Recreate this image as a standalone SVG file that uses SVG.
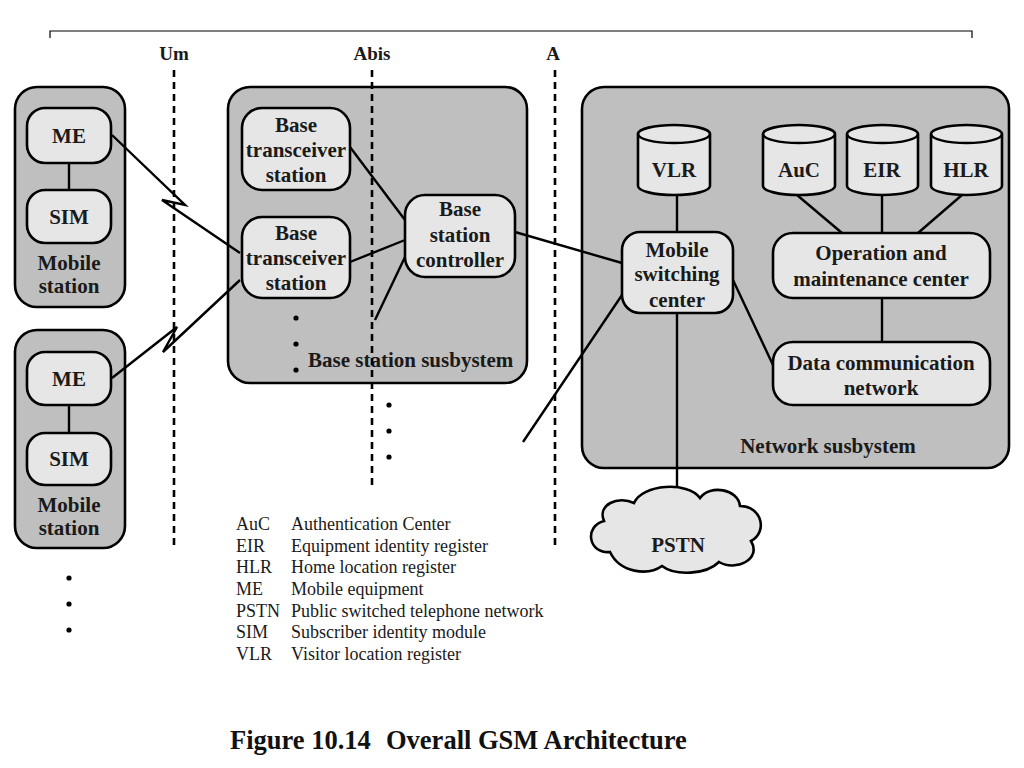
<svg xmlns="http://www.w3.org/2000/svg" width="1024" height="768" viewBox="0 0 1024 768">
<style>
.outer{fill:#bfbfbf;stroke:#000;stroke-width:2.6}
.box{fill:#e6e6e6;stroke:#000;stroke-width:2.6}
.con{fill:none;stroke:#000;stroke-width:2.4}
.dash{fill:none;stroke:#000;stroke-width:2.6;stroke-dasharray:7 5}
.lb{font-family:"Liberation Serif","Times New Roman",serif;font-weight:bold;font-size:21px;fill:#1a1a1a;text-anchor:middle}
.lg{font-family:"Liberation Serif","Times New Roman",serif;font-size:18px;fill:#1a1a1a}
.cap{font-family:"Liberation Serif","Times New Roman",serif;font-weight:bold;font-size:26.5px;fill:#111}
.dot{fill:#000}
</style>
<rect width="1024" height="768" fill="#fff"/>
<path d="M50,38 V31 H972 V38" fill="none" stroke="#000" stroke-width="1.2"/>
<g id="containers">
<rect id="ms1-box" class="outer" x="15" y="87" width="110" height="220" rx="22"/>
<rect id="ms2-box" class="outer" x="15" y="330" width="110" height="218" rx="22"/>
<rect id="bss-box" class="outer" x="228" y="87" width="299" height="296" rx="22"/>
<rect id="nss-box" class="outer" x="582" y="87" width="427" height="381" rx="22"/>
</g>
<g id="connectors">
<polyline class="con" points="112,135 185,205 162,200 240,253"/>
<polyline class="con" points="112,378 177,327 163,352 240,280"/>
<line class="con" x1="69" y1="163" x2="69" y2="190"/>
<line class="con" x1="69" y1="405" x2="69" y2="433"/>
<line class="con" x1="350" y1="147" x2="405" y2="220"/>
<line class="con" x1="350" y1="262" x2="405" y2="240"/>
<line class="con" x1="375" y1="320" x2="405" y2="257"/>
<line class="con" x1="515" y1="232" x2="622" y2="263"/>
<line class="con" x1="523" y1="442" x2="622" y2="295"/>
<line class="con" x1="677" y1="195" x2="677" y2="232"/>
<line class="con" x1="677" y1="313" x2="677" y2="493"/>
<line class="con" x1="733" y1="280" x2="773" y2="365"/>
<line class="con" x1="797" y1="195" x2="842" y2="233"/>
<line class="con" x1="882" y1="195" x2="882" y2="233"/>
<line class="con" x1="962" y1="195" x2="918" y2="233"/>
<line class="con" x1="882" y1="298" x2="882" y2="342"/>
</g>
<g id="ms1">
<rect class="box" x="27" y="108" width="84" height="55" rx="18"/>
<text class="lb" x="69" y="143">ME</text>
<rect class="box" x="27" y="190" width="84" height="53" rx="18"/>
<text class="lb" x="69" y="224">SIM</text>
<text class="lb" x="69" y="270">Mobile</text>
<text class="lb" x="69" y="293">station</text>
</g>
<g id="ms2">
<rect class="box" x="27" y="352" width="84" height="53" rx="18"/>
<text class="lb" x="69" y="386">ME</text>
<rect class="box" x="27" y="433" width="84" height="52" rx="18"/>
<text class="lb" x="69" y="466">SIM</text>
<text class="lb" x="69" y="512">Mobile</text>
<text class="lb" x="69" y="535">station</text>
</g>
<g id="ms-dots">
<circle class="dot" cx="69" cy="578" r="2.6"/>
<circle class="dot" cx="69" cy="604" r="2.6"/>
<circle class="dot" cx="69" cy="630" r="2.6"/>
</g>
<g id="bts1">
<rect class="box" x="242" y="108" width="108" height="82" rx="20"/>
<text class="lb" x="296" y="132">Base</text>
<text class="lb" x="296" y="157">transceiver</text>
<text class="lb" x="296" y="182">station</text>
</g>
<g id="bts2">
<rect class="box" x="242" y="217" width="108" height="81" rx="20"/>
<text class="lb" x="296" y="240">Base</text>
<text class="lb" x="296" y="265">transceiver</text>
<text class="lb" x="296" y="290">station</text>
</g>
<g id="bsc">
<rect class="box" x="405" y="195" width="110" height="82" rx="20"/>
<text class="lb" x="460" y="216">Base</text>
<text class="lb" x="460" y="242">station</text>
<text class="lb" x="460" y="267">controller</text>
</g>
<g id="bss-label">
<circle class="dot" cx="296" cy="318" r="2.6"/>
<circle class="dot" cx="296" cy="344" r="2.6"/>
<circle class="dot" cx="296" cy="370" r="2.6"/>
<text class="lb" x="308" y="367" style="text-anchor:start">Base station susbystem</text>
</g>
<g id="bss-dots">
<circle class="dot" cx="389" cy="405" r="2.6"/>
<circle class="dot" cx="389" cy="431" r="2.6"/>
<circle class="dot" cx="389" cy="457" r="2.6"/>
</g>
<g id="vlr">
<path class="box" d="M638,134 A36,9 0 0 1 710,134 V186 A36,9 0 0 1 638,186 Z"/>
<path class="con" d="M638,134 A36,9 0 0 0 710,134"/>
<text class="lb" x="674" y="177">VLR</text>
</g>
<g id="auc">
<path class="box" d="M763,134 A36,9 0 0 1 835,134 V186 A36,9 0 0 1 763,186 Z"/>
<path class="con" d="M763,134 A36,9 0 0 0 835,134"/>
<text class="lb" x="799" y="177">AuC</text>
</g>
<g id="eir">
<path class="box" d="M847,134 A35.5,9 0 0 1 918,134 V186 A35.5,9 0 0 1 847,186 Z"/>
<path class="con" d="M847,134 A35.5,9 0 0 0 918,134"/>
<text class="lb" x="882" y="177">EIR</text>
</g>
<g id="hlr">
<path class="box" d="M931,134 A35.5,9 0 0 1 1002,134 V186 A35.5,9 0 0 1 931,186 Z"/>
<path class="con" d="M931,134 A35.5,9 0 0 0 1002,134"/>
<text class="lb" x="966" y="177">HLR</text>
</g>
<g id="msc">
<rect class="box" x="622" y="232" width="111" height="81" rx="18"/>
<text class="lb" x="677" y="257">Mobile</text>
<text class="lb" x="677" y="281">switching</text>
<text class="lb" x="677" y="307">center</text>
</g>
<g id="omc">
<rect class="box" x="773" y="233" width="217" height="65" rx="20"/>
<text class="lb" x="881" y="260">Operation and</text>
<text class="lb" x="881" y="286">maintenance center</text>
</g>
<g id="dcn">
<rect class="box" x="773" y="342" width="217" height="63" rx="20"/>
<text class="lb" x="881" y="370">Data communication</text>
<text class="lb" x="881" y="395">network</text>
</g>
<g id="nss-label">
<text class="lb" x="828" y="453">Network susbystem</text>
</g>
<g id="pstn">
<path class="box" d="M610,552 C588,554 584,526 604,521 C597,505 618,495 634,503 C642,484 688,481 700,498 C710,484 738,489 740,506 C762,506 768,532 751,541 C762,559 736,572 719,562 C706,575 675,576 662,566 C648,576 620,573 610,552 Z"/>
<text class="lb" x="678" y="552">PSTN</text>
</g>
<g id="interfaces">
<line class="dash" x1="174" y1="70" x2="174" y2="545"/>
<line class="dash" x1="372" y1="70" x2="372" y2="485"/>
<line class="dash" x1="555" y1="70" x2="555" y2="545"/>
<text class="lb" x="174" y="60" style="font-size:19px">Um</text>
<text class="lb" x="372" y="60" style="font-size:19px">Abis</text>
<text class="lb" x="553" y="60" style="font-size:19px">A</text>
</g>
<g id="legend">
<text class="lg" x="236" y="530">AuC</text><text class="lg" x="291" y="530">Authentication Center</text>
<text class="lg" x="236" y="552">EIR</text><text class="lg" x="291" y="552">Equipment identity register</text>
<text class="lg" x="236" y="573">HLR</text><text class="lg" x="291" y="573">Home location register</text>
<text class="lg" x="236" y="595">ME</text><text class="lg" x="291" y="595">Mobile equipment</text>
<text class="lg" x="236" y="617">PSTN</text><text class="lg" x="291" y="617">Public switched telephone network</text>
<text class="lg" x="236" y="638">SIM</text><text class="lg" x="291" y="638">Subscriber identity module</text>
<text class="lg" x="236" y="660">VLR</text><text class="lg" x="291" y="660">Visitor location register</text>
</g>
<g id="caption">
<text class="cap" x="230" y="749">Figure 10.14</text>
<text class="cap" x="386" y="749">Overall GSM Architecture</text>
</g>
</svg>
